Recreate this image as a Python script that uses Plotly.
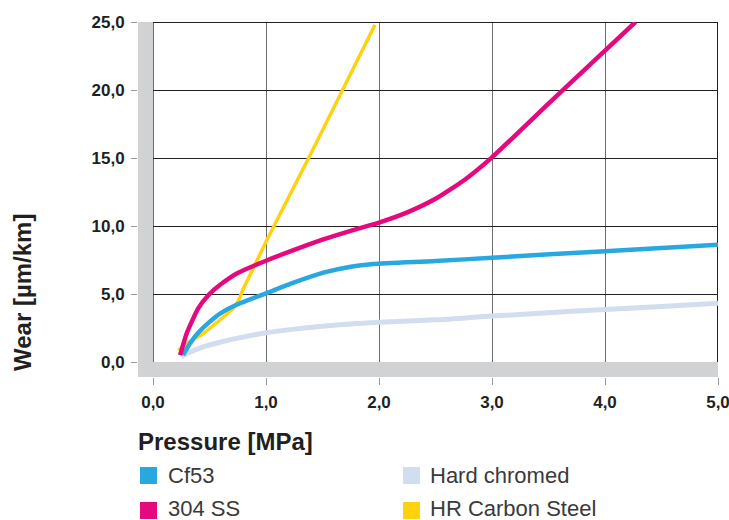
import plotly.graph_objects as go

# ---------------- data ----------------
series_names = ["Hard chromed", "HR Carbon Steel", "Cf53", "304 SS"]

hard_x = [0.25, 0.3, 0.45, 0.6, 0.75, 1.0, 1.25, 1.5, 1.75, 2.0, 2.5, 3.0, 3.5, 4.0, 4.5, 5.0]
hard_y = [0.38, 0.62, 1.13, 1.47, 1.76, 2.15, 2.42, 2.63, 2.8, 2.92, 3.1, 3.38, 3.62, 3.87, 4.08, 4.32]

hr_x = [0.224, 0.327, 0.445, 0.593, 0.71, 0.755, 0.8, 0.888, 1.0, 1.39, 1.965]
hr_y = [0.85, 1.5, 2.1, 3.09, 3.94, 4.5, 5.4, 6.9, 8.85, 15.2, 24.8]

cf53_x = [0.265, 0.33, 0.4, 0.5, 0.6, 0.75, 1.0, 1.25, 1.5, 1.75, 1.95, 2.5, 3.0, 4.0, 5.0]
cf53_y = [0.5, 1.4, 2.15, 2.95, 3.6, 4.25, 5.05, 5.85, 6.55, 7.0, 7.2, 7.42, 7.67, 8.15, 8.62]

ss_x = [0.24, 0.3, 0.4, 0.5, 0.6, 0.75, 1.0, 1.25, 1.5, 1.75, 2.0, 2.25, 2.5, 2.75, 3.0, 3.5, 4.0, 4.27]
ss_y = [0.5, 2.15, 3.95, 5.0, 5.72, 6.55, 7.45, 8.25, 9.0, 9.65, 10.25, 11.0, 12.0, 13.35, 15.05, 19.0, 22.9, 25.0]

x_ticks = [0, 1, 2, 3, 4, 5]
y_ticks = [0, 5, 10, 15, 20, 25]

colors = {
    "Hard chromed": "#D2DDEF",
    "HR Carbon Steel": "#FFD20F",
    "Cf53": "#29A8E0",
    "304 SS": "#E5097F",
}
widths = {"Hard chromed": 5, "HR Carbon Steel": 3.5, "Cf53": 4.5, "304 SS": 4.5}
smooth = {"Hard chromed": 0.8, "HR Carbon Steel": 0.4, "Cf53": 0.6, "304 SS": 0.5}
data = {
    "Hard chromed": (hard_x, hard_y),
    "HR Carbon Steel": (hr_x, hr_y),
    "Cf53": (cf53_x, cf53_y),
    "304 SS": (ss_x, ss_y),
}

# ---------------- figure ----------------
W, H = 729, 520
ML, MR, MT, MB = 138, 11, 22, 143
PW, PH = W - ML - MR, H - MT - MB

def px(xp):  # page pixel -> paper x
    return (xp - ML) / PW

def py(yp):  # page pixel -> paper y
    return (H - MB - yp) / PH

fig = go.Figure()
for name in series_names:
    xs, ys = data[name]
    fig.add_trace(go.Scatter(
        x=xs, y=ys, mode="lines", name=name,
        line=dict(color=colors[name], width=widths[name], shape="spline",
                  smoothing=smooth[name]),
        showlegend=False, hoverinfo="skip",
    ))

TXT = "#231F20"
FONT = "Liberation Sans, Arial, sans-serif"
GRAY = "#D1D2D4"

x_min, y_min = -0.1327, -1.1
fig.update_layout(
    width=W, height=H,
    margin=dict(l=ML, r=MR, t=MT, b=MB, pad=0, autoexpand=False),
    paper_bgcolor="white", plot_bgcolor="white",
    separators=",.",
    font=dict(family=FONT, color=TXT),
    xaxis=dict(
        range=[x_min, 5], tickvals=x_ticks, tickformat=".1f",
        showgrid=True, gridcolor="#6D6E71", gridwidth=1.2,
        zeroline=False, showline=False, automargin=False,
        ticks="outside", ticklen=7, tickcolor="#9A9A9A", tickwidth=1.2,
        tickfont=dict(family=FONT, size=17, color=TXT, weight="bold"),
        ticklabelstandoff=3, ticklabeloverflow="allow",
    ),
    yaxis=dict(
        range=[y_min, 25], tickvals=y_ticks, tickformat=".1f",
        showgrid=True, gridcolor="#231F20", gridwidth=1,
        zeroline=False, showline=False, automargin=False,
        ticks="outside", ticklen=6, tickcolor="#9A9A9A", tickwidth=1.2,
        tickfont=dict(family=FONT, size=17, color=TXT, weight="bold"),
        ticklabelstandoff=3, ticklabeloverflow="allow",
    ),
)

shapes = [
    # gray axis bars
    dict(type="rect", xref="x", yref="y", x0=x_min, x1=0, y0=y_min, y1=25,
         fillcolor=GRAY, line=dict(width=0), layer="between"),
    dict(type="rect", xref="x", yref="y", x0=x_min, x1=5, y0=y_min, y1=0,
         fillcolor=GRAY, line=dict(width=0), layer="between"),
    # top border and right border
    dict(type="line", xref="x", yref="y", x0=0, x1=5, y0=25, y1=25,
         line=dict(color="#231F20", width=2), layer="between"),
    dict(type="line", xref="x", yref="y", x0=5, x1=5, y0=0, y1=25,
         line=dict(color="#231F20", width=2), layer="between"),
]

# manual legend: (name, square left, square top, text left, text centre) in page pixels
legend_items = [
    ("Cf53", 140, 467, 166, 475.0),
    ("304 SS", 140, 502, 166, 508.5),
    ("Hard chromed", 403, 467, 428, 475.0),
    ("HR Carbon Steel", 403, 502, 428, 508.5),
]
annotations = []
for name, sx, sy, tx, ty in legend_items:
    shapes.append(dict(type="rect", xref="paper", yref="paper",
                       x0=px(sx), x1=px(sx + 17), y0=py(sy + 17), y1=py(sy),
                       fillcolor=colors[name], line=dict(width=0)))
    annotations.append(dict(text=name, xref="paper", yref="paper",
                            x=px(tx), y=py(ty), xanchor="left", yanchor="middle",
                            showarrow=False,
                            font=dict(family=FONT, size=22, color="#3A3A3A")))

annotations.append(dict(text="Pressure [MPa]", xref="paper", yref="paper",
                        x=px(136), y=py(441), xanchor="left", yanchor="middle",
                        showarrow=False,
                        font=dict(family=FONT, size=24, color=TXT, weight="bold")))
annotations.append(dict(text="Wear [µm/km]", xref="paper", yref="paper",
                        x=px(22), y=py(293), xanchor="center", yanchor="middle",
                        textangle=-90, showarrow=False,
                        font=dict(family=FONT, size=24, color=TXT, weight="bold")))

fig.update_layout(shapes=shapes, annotations=annotations)
fig.write_html(
    "out.html",
    config={"displayModeBar": False},
    post_script="document.body.style.margin='0';document.body.style.overflow='hidden';",
)
